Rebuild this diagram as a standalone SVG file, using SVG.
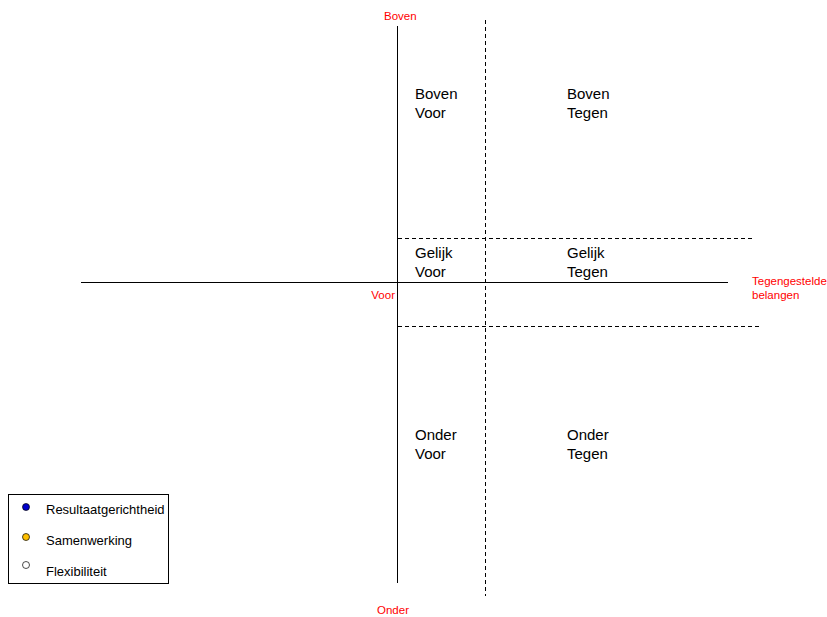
<svg xmlns="http://www.w3.org/2000/svg" width="827" height="617" viewBox="0 0 827 617">
  <style>
    .axis { stroke: #000; stroke-width: 1; fill: none; }
    .dash { stroke: #000; stroke-width: 1; stroke-dasharray: 4 3; fill: none; }
    .red { font-family: "Liberation Sans", Arial, sans-serif; font-size: 11.5px; fill: #ff0000; }
    .q { font-family: "Liberation Sans", Arial, sans-serif; font-size: 15px; fill: #000; }
    .leg { font-family: "Liberation Sans", Arial, sans-serif; font-size: 13px; fill: #000; }
  </style>
  <rect width="827" height="617" fill="#fff"/>
  <g id="connectors">
    <line class="axis" x1="397.5" y1="26" x2="397.5" y2="583"/>
    <line class="axis" x1="81" y1="282.5" x2="728" y2="282.5"/>
    <line class="dash" x1="485.5" y1="20" x2="485.5" y2="596"/>
    <line class="dash" x1="398" y1="238.5" x2="755" y2="238.5"/>
    <line class="dash" x1="398" y1="326.5" x2="762" y2="326.5"/>
  </g>
  <g id="axis-labels">
    <text class="red" x="384" y="20">Boven</text>
    <text class="red" x="377" y="614">Onder</text>
    <text class="red" x="395" y="299" text-anchor="end">Voor</text>
    <text class="red" x="752" y="285">Tegengestelde</text>
    <text class="red" x="752" y="299">belangen</text>
  </g>
  <g id="boven-voor"><text class="q" x="415" y="99">Boven</text><text class="q" x="415" y="118">Voor</text></g>
  <g id="boven-tegen"><text class="q" x="567" y="99">Boven</text><text class="q" x="567" y="118">Tegen</text></g>
  <g id="gelijk-voor"><text class="q" x="415" y="258">Gelijk</text><text class="q" x="415" y="277">Voor</text></g>
  <g id="gelijk-tegen"><text class="q" x="567" y="258">Gelijk</text><text class="q" x="567" y="277">Tegen</text></g>
  <g id="onder-voor"><text class="q" x="415" y="440">Onder</text><text class="q" x="415" y="459">Voor</text></g>
  <g id="onder-tegen"><text class="q" x="567" y="440">Onder</text><text class="q" x="567" y="459">Tegen</text></g>
  <g id="legend">
    <rect x="8.5" y="494.5" width="160" height="89" fill="#fff" stroke="#000"/>
    <circle cx="26" cy="507" r="3.5" fill="#0000cc" stroke="#000" stroke-width="0.7"/>
    <text class="leg" x="46" y="514">Resultaatgerichtheid</text>
    <circle cx="26" cy="537" r="3.5" fill="#ffc000" stroke="#000" stroke-width="0.7"/>
    <text class="leg" x="46" y="545">Samenwerking</text>
    <circle cx="26" cy="565" r="3.5" fill="#fff" stroke="#000" stroke-width="0.7"/>
    <text class="leg" x="46" y="576">Flexibiliteit</text>
  </g>
</svg>
